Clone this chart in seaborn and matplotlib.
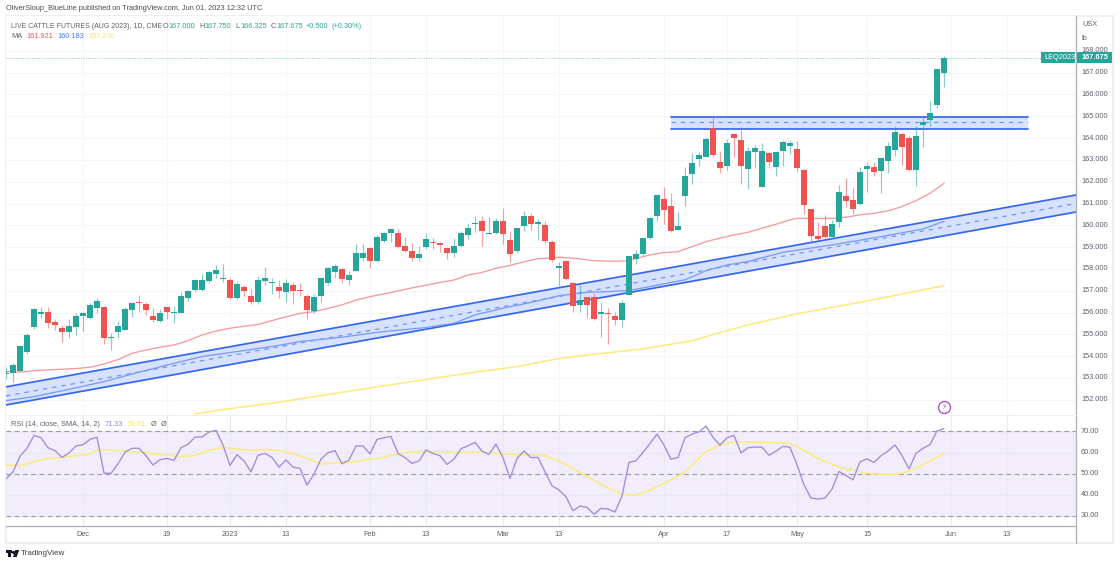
import matplotlib
matplotlib.use("Agg")
import matplotlib.pyplot as plt
from matplotlib.patches import Rectangle, Polygon
import numpy as np
import seaborn as sns

# ---------- data ----------
opens = [153.17,153.21,153.33,154.21,155.35,155.95,156.03,155.55,155.31,155.09,
         155.35,155.86,155.75,156.22,156.24,154.83,155.12,155.22,156.10,156.49,
         156.41,155.86,155.60,156.24,155.96,155.96,156.65,157.04,157.05,157.46,
         157.77,157.54,157.49,156.65,157.17,156.74,156.47,157.43,157.37,157.17,
         156.96,157.28,157.02,156.77,156.09,156.77,157.35,157.86,157.98,157.51,
         157.92,158.52,158.94,158.36,159.30,159.63,159.63,159.04,158.82,158.52,
         158.99,159.25,159.17,158.97,158.73,159.05,159.57,160.05,160.21,159.62,
         159.63,160.18,159.34,158.82,159.98,160.44,160.08,160.00,159.25,158.02,
         158.37,157.36,156.36,156.69,156.72,155.94,155.98,155.86,155.65,156.81,
         158.46,158.67,159.42,160.43,161.20,160.88,159.79,161.36,162.34,163.05,
         163.15,164.45,162.92,162.74,164.19,163.89,162.57,163.38,161.76,163.31,
         162.66,163.43,163.64,163.50,162.54,160.74,159.53,159.99,159.47,160.17,
         161.35,161.15,160.98,162.60,162.66,162.51,162.97,163.47,164.18,164.01,
         162.54,164.62,164.83,165.52,167.00]
closes = [153.21,153.59,154.48,154.97,156.16,156.03,155.54,155.41,155.09,155.37,
          155.86,155.96,156.35,156.53,154.83,154.86,155.40,156.15,156.44,156.42,
          156.10,155.67,156.00,156.04,156.01,156.78,156.99,157.51,157.49,157.88,
          157.95,157.57,156.65,157.30,157.00,156.49,157.49,157.59,157.42,156.99,
          157.35,157.00,156.99,156.12,156.71,157.57,158.03,158.13,157.52,157.74,
          158.73,158.73,158.38,159.46,159.66,159.82,159.00,158.81,158.52,158.68,
          159.37,159.20,159.08,158.73,159.04,159.63,159.88,160.09,159.75,159.65,
          160.21,159.62,158.68,159.86,160.44,160.06,160.15,159.30,158.41,158.12,
          157.54,156.32,156.56,156.36,155.69,156.04,155.94,155.65,156.43,158.57,
          158.69,159.44,160.34,161.39,160.72,159.74,159.96,162.28,162.86,163.24,
          163.96,163.23,162.65,163.77,163.99,162.72,163.41,163.54,163.41,162.92,
          163.38,163.83,163.76,162.63,160.92,159.51,159.38,159.45,160.05,161.52,
          161.12,160.75,162.45,162.73,162.45,163.11,163.63,164.28,163.58,162.53,
          164.10,164.74,165.14,167.17,167.675]
highs = [153.52,153.70,154.51,155.05,156.19,156.27,156.27,155.69,155.45,155.70,
         155.96,156.04,156.42,156.65,156.24,155.05,155.63,156.24,156.50,156.81,
         156.50,156.19,156.16,156.27,156.30,156.96,157.04,157.54,157.77,157.92,
         158.18,158.23,157.60,157.46,157.26,157.07,157.69,158.11,157.57,157.49,
         157.52,157.38,157.37,156.83,156.83,157.61,158.07,158.21,158.03,157.90,
         159.14,159.14,159.02,159.56,159.69,159.82,159.85,159.48,159.17,159.07,
         159.66,159.40,159.22,158.99,159.40,159.75,160.06,160.44,160.43,160.40,
         160.32,160.78,159.74,159.89,160.67,160.58,160.29,160.21,159.33,158.31,
         158.40,157.39,157.24,156.73,156.91,156.47,156.23,156.04,156.58,158.60,
         158.87,159.48,160.37,161.44,161.78,161.47,160.63,162.66,163.31,163.38,
         164.07,165.06,163.41,163.96,164.22,164.53,163.61,163.69,163.76,163.38,
         163.38,163.92,163.92,163.87,162.57,160.74,160.13,160.48,160.25,161.85,
         162.16,161.70,162.66,162.92,162.92,163.15,163.84,164.57,164.22,164.15,
         164.56,164.99,165.71,167.20,167.75]
lows = [152.94,152.83,153.30,154.10,155.23,155.77,155.31,155.20,154.65,154.85,
        154.97,155.17,155.72,155.96,154.54,154.28,154.82,155.20,155.78,156.03,
        155.89,155.55,155.58,155.69,155.54,155.96,156.55,156.94,157.00,157.34,
        157.60,157.42,156.62,156.62,156.76,156.39,156.41,157.28,156.85,156.65,
        156.47,156.41,156.76,155.70,155.99,156.50,157.26,157.57,157.37,157.25,
        157.90,158.38,158.03,158.33,159.25,159.25,158.97,158.79,158.38,158.38,
        158.90,158.90,158.76,158.44,158.56,159.02,159.36,159.71,159.07,159.59,
        159.60,159.14,158.33,158.75,159.75,159.79,159.33,159.20,158.34,157.22,
        157.50,156.04,156.04,155.77,155.66,154.90,154.56,155.43,155.32,156.79,
        158.21,158.64,159.39,160.22,160.06,159.68,159.79,160.90,161.90,162.73,
        163.12,163.15,162.39,162.54,163.15,161.88,161.65,162.62,161.76,162.62,
        162.24,162.74,163.27,162.47,160.52,159.25,159.33,159.41,159.45,159.90,
        160.86,160.52,160.94,161.52,162.24,161.50,162.42,163.18,162.77,162.47,
        161.82,163.61,164.56,165.40,166.325]

ma_red_idx = [0,2,4,6,8,10,12,14,16,18,20,22,24,26,28,30,32,34,36,38,39,42,44,46,48,50,52,54,56,58,60,62,64,66,68,
              70,72,74,76,78,79,81,84,87,89,90,92,94,96,98,100,102,104,106,108,110,112,113,114,116,118,120,122,124,126,128,130,132,134]
ma_red = [153.29,153.27,153.33,153.37,153.40,153.43,153.49,153.64,153.84,154.13,154.28,154.41,154.51,154.71,154.97,155.15,155.28,155.37,155.45,155.63,155.72,
          155.96,156.04,156.19,156.35,156.57,156.73,156.85,156.99,157.13,157.25,157.38,157.49,157.72,157.84,
          158.03,158.16,158.33,158.47,158.50,158.54,158.49,158.38,158.35,158.37,158.49,158.64,158.75,158.79,159.02,159.25,159.41,159.56,159.68,159.87,
          160.05,160.25,160.32,160.32,160.31,160.32,160.37,160.48,160.55,160.66,160.86,161.13,161.47,161.921]

ma_blue_idx = [0,4,9,14,18,23,28,33,38,42,48,54,60,64,67,71,75,79,83,86,89,92,95,97,100,103,106,111,118,125,131,134]
ma_blue = [151.96,152.14,152.48,152.83,153.18,153.59,153.98,154.21,154.44,154.67,154.87,155.13,155.31,155.51,155.89,156.20,156.46,156.77,
           156.93,156.96,157.01,157.19,157.38,157.50,157.92,158.18,158.34,158.76,159.10,159.48,159.83,160.183]

ma_yellow_idx = [27,31,38,45,52,59,66,73,79,83,91,98,103,106,113,120,123,134]
ma_yellow = [151.35,151.55,151.84,152.19,152.54,152.88,153.22,153.52,153.89,154.05,154.33,154.71,155.17,155.43,155.94,156.35,156.53,157.23]

rsi = [47.5,50.9,58.2,62.0,68.1,67.0,62.3,60.9,57.7,59.8,
       63.1,63.7,66.2,67.2,50.2,50.2,54.7,60.2,62.0,62.0,
       58.5,54.1,56.6,57.2,56.3,62.3,63.9,67.3,67.3,69.7,
       70.5,63.5,53.9,59.0,56.1,50.9,58.7,59.6,57.7,53.1,
       56.5,53.1,52.5,44.6,49.8,56.9,59.9,60.9,54.7,56.5,
       63.1,63.1,59.4,66.2,67.0,67.6,59.6,57.6,54.9,56.0,
       61.2,59.6,58.5,54.4,56.9,61.8,63.2,64.8,60.7,59.1,
       64.0,57.6,47.8,57.2,60.7,57.6,57.7,50.9,44.3,42.3,
       39.1,32.5,34.7,34.1,30.8,33.6,33.3,31.9,39.4,55.4,
       56.1,60.1,64.3,68.7,63.5,56.8,57.7,67.0,68.7,69.8,
       72.5,67.2,63.5,67.0,68.1,59.8,62.3,62.6,62.5,58.7,
       60.7,62.9,62.5,54.2,44.7,38.5,38.0,38.5,42.7,51.0,
       49.1,47.1,55.6,57.0,55.3,58.5,60.7,63.6,58.5,52.3,
       59.6,62.0,63.7,70.2,71.33]
rsi_ma_idx = [0,2,4,6,8,10,12,13,15,18,20,22,25,27,29,31,33,35,37,39,41,43,45,47,49,53,56,58,63,65,68,71,77,79,82,85,88,90,92,95,97,100,102,104,107,109,112,113,116,119,123,126,128,130,134]
rsi_ma = [54.1,53.8,55.7,57.2,57.7,58.5,59.3,61.2,61.3,60.4,59.9,59.1,58.2,58.5,61.2,62.4,61.7,61.0,61.5,61.0,59.4,57.2,54.6,55.0,55.4,
          57.2,59.3,60.4,60.4,60.1,60.4,59.4,58.5,56.1,50.6,45.0,40.2,39.8,42.3,47.0,50.9,60.4,63.5,65.1,64.8,64.8,64.4,62.8,57.3,53.1,50.2,49.4,50.2,52.4,59.61]

channel_idx = [0, 153.71]
channel_upper = [152.59, 161.44]
channel_lower = [151.76, 160.66]
range_idx = [95, 146]
range_top = 164.98
range_mid = 164.72
range_bottom = 164.44

price_ticks = [152,153,154,155,156,157,158,159,160,161,162,163,164,165,166,167,168]
rsi_ticks = [30,40,50,60,70]
date_pos = [11,23,32,40,52,60,71,79,94,103,113,123,135,143]
date_labels = ["Dec","19","2023","13","Feb","13","Mar","13","Apr","17","May","15","Jun","13"]
last_price = 167.675

# ---------- style ----------
sns.set_theme(style="white")
FONT = ["Liberation Sans", "DejaVu Sans"]
plt.rcParams["font.family"] = FONT
UP, DOWN = "#26a69a", "#ef5350"
GRID = "#f5f6fb"
TXT = "#5d606b"
FS = 5.3

W, H = 1120, 565
fig = plt.figure(figsize=(W/100, H/100), dpi=100, facecolor="white")
def box(x0, y0, x1, y1):
    return [x0/W, 1-y1/H, (x1-x0)/W, (y1-y0)/H]
def fx(x): return x/W
def fy(y): return 1-y/H

ax = fig.add_axes(box(6, 16, 1076, 415))
ar = fig.add_axes(box(6, 415, 1076, 526), sharex=ax)
for a in (ax, ar):
    a.set_facecolor("white")
    a.tick_params(left=False, bottom=False, right=False, labelleft=False, labelbottom=False)
    for s in a.spines.values():
        s.set_visible(False)
    a.set_axisbelow(True)
    a.set_xticks(date_pos)
    a.grid(True, color=GRID, lw=0.8)
ax.set_yticks(price_ticks)
ar.set_yticks(rsi_ticks)

idx = np.arange(len(opens))
op, cl, hi, lo = map(np.array, (opens, closes, highs, lows))
colors = np.where(cl >= op, UP, DOWN)

# channels
xc = np.array(channel_idx)
up_line, lo_line = np.array(channel_upper), np.array(channel_lower)
ax.fill_between(xc, lo_line, up_line, color="#d6e2ff", lw=0, zorder=1)
ax.plot(xc, up_line, color="#3566f0", lw=1.25, zorder=2)
ax.plot(xc, lo_line, color="#3566f0", lw=1.25, zorder=2)
ax.plot(xc, (up_line+lo_line)/2, color="#6f93f5", lw=0.9, ls=(0, (3.5, 4)), zorder=2)
ax.fill_between(range_idx, range_bottom, range_top, color="#d6e2ff", lw=0, zorder=1)
ax.plot(range_idx, [range_top]*2, color="#3566f0", lw=1.25, zorder=2)
ax.plot(range_idx, [range_bottom]*2, color="#3566f0", lw=1.25, zorder=2)
ax.plot(range_idx, [range_mid]*2, color="#6f93f5", lw=0.9, ls=(0, (3.5, 4)), zorder=2)

# moving averages
sns.lineplot(x=ma_red_idx, y=ma_red, ax=ax, color="#f59a9d", lw=0.95, estimator=None, sort=False, legend=False, zorder=3)
sns.lineplot(x=ma_blue_idx, y=ma_blue, ax=ax, color="#7c9bf3", lw=0.95, estimator=None, sort=False, legend=False, zorder=3)
sns.lineplot(x=ma_yellow_idx, y=ma_yellow, ax=ax, color="#fdea7a", lw=1.1, estimator=None, sort=False, legend=False, zorder=3)

# last price line
ax.axhline(last_price, color="#7fcfc7", lw=0.7, ls=(0, (1, 1.4)), zorder=2)

# candles
ax.vlines(idx, lo, hi, colors=list(colors), lw=0.85, alpha=0.55, zorder=4)
ax.bar(idx, np.maximum(np.abs(cl-op), 0.05), bottom=np.minimum(op, cl), width=0.78, color=colors, lw=0, zorder=5)
ax.set_xlim(0, 1070/7)
ax.set_ylim(151.30, 169.6)

# RSI pane
ar.axhspan(30, 70, color="#f1edfa", lw=0, zorder=0.5)
ar.grid(True, color="#ebe8f5", lw=0.8, zorder=0.6)
for v in (70, 50, 30):
    ar.axhline(v, color="#9d9ca8", lw=0.85, ls=(0, (4, 3)), zorder=1)
sns.lineplot(x=rsi_ma_idx, y=rsi_ma, ax=ar, color="#fdea7a", lw=1.1, estimator=None, sort=False, legend=False, zorder=3)
sns.lineplot(x=idx, y=rsi, ax=ar, color="#a48fdb", lw=1.0, estimator=None, sort=False, legend=False, zorder=4)
ar.set_xlim(0, 1070/7)
ar.set_ylim(25.27, 77.75)

# frame and axes lines in figure space
fig.add_artist(Rectangle((fx(6), fy(543)), (1113-6)/W, (543-16)/H, transform=fig.transFigure,
                         fill=False, ec="#efeff2", lw=1.4, zorder=-1))
fig.add_artist(plt.Line2D([fx(1076)]*2, [fy(16), fy(543)], color="#b2b5be", lw=1.0))
fig.add_artist(plt.Line2D([fx(6), fx(1076)], [fy(526)]*2, color="#b2b5be", lw=1.0))
fig.add_artist(plt.Line2D([fx(6), fx(1076)], [fy(415)]*2, color="#eeeff3", lw=0.7))

# right scale labels
for p in price_ticks:
    ypix = ax.transData.transform((0, p))[1]
    fig.text(fx(1081), ypix/H, f"{p:.3f}", color=TXT, fontsize=FS, va="center", ha="left")
for r in rsi_ticks:
    ypix = ar.transData.transform((0, r))[1]
    fig.text(fx(1081), ypix/H, f"{r:.2f}", color=TXT, fontsize=FS, va="center", ha="left")
fig.text(fx(1082), fy(25), "USX", color=TXT, fontsize=FS, va="center")
fig.text(fx(1082), fy(38), "lb", color=TXT, fontsize=FS, va="center")

# date labels
for d, lab in zip(date_pos, date_labels):
    xpix = ax.transData.transform((d, 0))[0]
    fig.text(xpix/W, fy(534), lab, color=TXT, fontsize=FS, ha="center", va="center")

# header and legends
fig.text(fx(6), fy(9), "OliverSloup_BlueLine published on TradingView.com, Jun 01, 2023 12:32 UTC",
         color="#4a4d57", fontsize=FS, va="center")
fig.text(fx(11), fy(26), "LIVE CATTLE FUTURES (AUG 2023), 1D, CME", color=TXT, fontsize=5.0, va="center")
for x, letter, val in [(163, "O", "167.000"), (199, "H", "167.750"), (235, "L", "166.325"), (271, "C", "167.675")]:
    fig.text(fx(x), fy(26), letter, color=TXT, fontsize=FS, va="center")
    fig.text(fx(x+5.5), fy(26), val, color=UP, fontsize=FS, va="center")
fig.text(fx(306), fy(26), "+0.500", color=UP, fontsize=FS, va="center")
fig.text(fx(331), fy(26), "(+0.30%)", color=UP, fontsize=FS, va="center")
fig.text(fx(11), fy(37), "MA", color=TXT, fontsize=FS, va="center")
fig.text(fx(26), fy(37), "161.921", color="#f2525c", fontsize=FS, va="center")
fig.text(fx(57), fy(37), "160.183", color="#4a78f2", fontsize=FS, va="center")
fig.text(fx(88), fy(37), "157.230", color="#fbe35a", fontsize=FS, va="center")
fig.text(fx(11), fy(424.5), "RSI (14, close, SMA, 14, 2)", color=TXT, fontsize=FS, va="center")
fig.text(fx(105), fy(424.5), "71.33", color="#9c86d8", fontsize=FS, va="center")
fig.text(fx(128), fy(424.5), "59.61", color="#fbe35a", fontsize=FS, va="center")
fig.text(fx(151), fy(424.5), "Ø", color=TXT, fontsize=FS, va="center")
fig.text(fx(161), fy(424.5), "Ø", color=TXT, fontsize=FS, va="center")

# price tags (cover the 168.000 label as the reference does)
ytag = ax.transData.transform((0, last_price))[1]/H
fig.add_artist(Rectangle((fx(1041), ytag-5.5/H), 34/W, 11/H, transform=fig.transFigure, fc=UP, ec="none", zorder=4))
fig.add_artist(Rectangle((fx(1077), ytag-5.5/H), 35/W, 11/H, transform=fig.transFigure, fc=UP, ec="none", zorder=4))
fig.text(fx(1044), ytag, "LEQ2023", color="white", fontsize=FS, va="center", zorder=5)
fig.text(fx(1081), ytag, f"{last_price:.3f}", color="white", fontsize=FS, va="center", fontweight="bold", zorder=5)

# lightning badge
fig.add_artist(plt.Line2D([fx(944)], [fy(407)], marker="o", ms=8.6, mfc="white", mec="#a64fc0", mew=0.95, ls="none"))
fig.text(fx(944), fy(407), "\u26a1", color="#a64fc0", fontsize=5.2, ha="center", va="center", family=["DejaVu Sans"])

# TradingView mark
k = "#131722"
fig.add_artist(Rectangle((fx(6), fy(553)), 5.5/W, 3/H, transform=fig.transFigure, fc=k, ec="none"))
fig.add_artist(Rectangle((fx(8.2), fy(557)), 3.3/W, 4/H, transform=fig.transFigure, fc=k, ec="none"))
fig.add_artist(plt.Line2D([fx(13)], [fy(551.5)], marker="o", ms=2.4, mfc=k, mec=k, mew=0, ls="none"))
fig.add_artist(Polygon([(fx(15.3), fy(550)), (fx(19.2), fy(550)), (fx(16.6), fy(557)), (fx(13), fy(557))],
                       transform=fig.transFigure, fc=k, ec="none"))
fig.text(fx(21), fy(553.5), "TradingView", color="#3a3d46", fontsize=5.8, va="center")

fig.savefig("out.png", dpi=100, facecolor="white")
